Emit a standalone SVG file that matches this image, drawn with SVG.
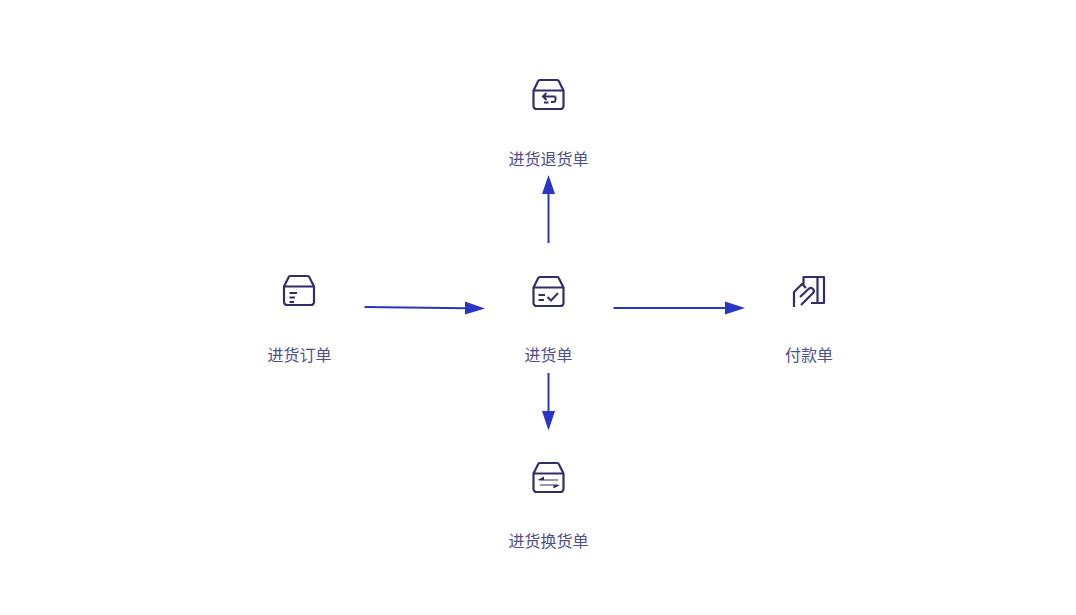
<svg xmlns="http://www.w3.org/2000/svg" width="1076" height="615" viewBox="0 0 1076 615">
<style>
text{font-family:"Noto Sans CJK SC","Noto Sans",sans-serif;font-size:16px;fill:#505088;text-anchor:middle}
.i{fill:none;stroke:#2f2f69;stroke-width:2.200;stroke-linejoin:round}
.d{fill:none;stroke:#2f2f69;stroke-width:2}
.t{fill:none;stroke:#2f2f69;stroke-width:1.200}
.c{fill:none;stroke:#2a35c4;stroke-width:2}
.h{fill:#2a35c4}
.f{fill:#2f2f69}
</style>
<defs>
<path id="box" d="M533.500 90.500V106a3 3 0 0 0 3 3H560.500a3 3 0 0 0 3-3V90.500M533.500 90.500L538 81.500a2 2 0 0 1 2-1.500H557a2 2 0 0 1 2 1.500L563.500 90.500ZM533.500 90.500H563.500"/>
</defs>
<g id="connectors">
<path class="c" d="M364.500 307L467 308.300"/><path class="h" d="M465 301.500L485 308.500L465 314.500Z"/>
<path class="c" d="M613.500 308H727"/><path class="h" d="M725 301.500L745 308L725 314.500Z"/>
<path class="c" d="M548.500 243V192"/><path class="h" d="M542 194L548.500 175L555 194Z"/>
<path class="c" d="M548.500 373V413"/><path class="h" d="M542 411L548.500 430.500L555 411Z"/>
</g>
<g id="node-return">
<use href="#box" class="i"/>
<path class="d" d="M555.500 96.500H543M546.500 93L543 96.500L546.500 100"/>
<path class="d" d="M555.500 96.500V99.500a2.500 2.500 0 0 1-2.500 2.500H551M548.500 102.500H544"/>
<text x="548.500" y="164.500">进货退货单</text>
</g>
<g id="node-order">
<use href="#box" class="i" x="-249.500" y="196"/>
<path class="d" d="M289.500 293H297M289.500 297.500H295M289.500 302H294"/>
<text x="299.500" y="361">进货订单</text>
</g>
<g id="node-receipt">
<use href="#box" class="i" y="197"/>
<path class="d" d="M538.500 295H545M538.500 300H544M547.500 297L551 300.500L558 293"/>
<text x="548.500" y="361">进货单</text>
</g>
<g id="node-payment">
<path class="i" d="M803.500 285V277H824V303H811M817.500 277V303M794 307V292L802 284L806 288"/>
<path class="i" d="M800 297L808.500 289a3 3 0 0 1 4.500 4L801 305"/>
<text x="809" y="361">付款单</text>
</g>
<g id="node-exchange">
<use href="#box" class="i" y="383"/>
<path class="t" d="M539 480H558M540 485H558"/>
<path class="f" d="M537.500 480L544 476.500V480ZM560 485L553.500 488.500V485Z"/>
<text x="548.500" y="547">进货换货单</text>
</g>
</svg>
